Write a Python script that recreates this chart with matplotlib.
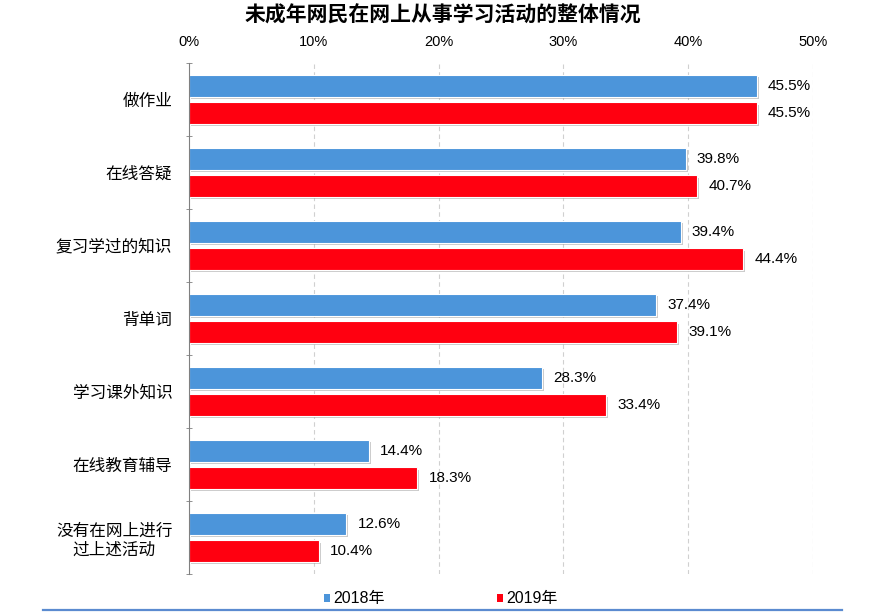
import matplotlib
matplotlib.use("Agg")
import matplotlib.pyplot as plt
import matplotlib.patheffects as pe
import numpy as np

plt.rcParams['font.family'] = ['Liberation Sans', 'Noto Sans CJK SC']

categories = ["做作业", "在线答疑", "复习学过的知识", "背单词", "学习课外知识", "在线教育辅导", "没有在网上进行\n过上述活动"]
values_2018 = [45.5, 39.8, 39.4, 37.4, 28.3, 14.4, 12.6]
values_2019 = [45.5, 40.7, 44.4, 39.1, 33.4, 18.3, 10.4]
series_names = ["2018年", "2019年"]
x_ticks = [0, 10, 20, 30, 40, 50]
x_tick_labels = ["0%", "10%", "20%", "30%", "40%", "50%"]
title = "未成年网民在网上从事学习活动的整体情况"

c18 = '#4C95DA'
c19 = '#FF0010'

fig = plt.figure(figsize=(8.81, 6.12), dpi=100)
ax = fig.add_axes([189/881, (612-574)/612, 624/881, 511/612])

n = len(categories)
y = np.arange(n)
off = 0.185
h = 0.29
shadow = [pe.SimplePatchShadow(offset=(1.5, -1.5), shadow_rgbFace='#999999', alpha=0.5), pe.Normal()]
b1 = ax.barh(y - off, values_2018, height=h, color=c18, edgecolor='white', linewidth=0.8, label=series_names[0], path_effects=shadow)
b2 = ax.barh(y + off, values_2019, height=h, color=c19, edgecolor='white', linewidth=0.8, label=series_names[1], path_effects=shadow)

for yy, v in zip(y - off, values_2018):
    ax.text(v + 0.9, yy, f"{v:.1f}%", va='center', ha='left', fontsize=11)
for yy, v in zip(y + off, values_2019):
    ax.text(v + 0.9, yy, f"{v:.1f}%", va='center', ha='left', fontsize=11)

ax.set_xlim(0, 50)
ax.set_ylim(n - 0.5, -0.5)
ax.xaxis.tick_top()
ax.set_xticks(x_ticks)
ax.set_xticklabels(x_tick_labels, fontsize=10.5)
ax.tick_params(axis='x', length=0, pad=10)
for t in x_ticks[1:]:
    ax.axvline(t, color='#D0D0D0', linestyle=(0, (4, 3)), linewidth=0.8, zorder=0)

ax.set_yticks(y)
ax.set_yticklabels(categories, fontsize=12, multialignment='center', linespacing=1.25)
ax.tick_params(axis='y', length=0, pad=12)
ax.set_yticks(np.arange(n + 1) - 0.5, minor=True)
ax.tick_params(axis='y', which='minor', length=4, color='#808080', direction='inout')

for s in ['top', 'right', 'bottom']:
    ax.spines[s].set_visible(False)
ax.spines['left'].set_color('#808080')
ax.spines['left'].set_linewidth(0.8)

fig.text(443/881, 1 - 15/612, title, ha='center', va='center', fontsize=15, fontweight='bold', family=['Noto Sans CJK SC'])

leg = fig.legend(handles=[b1, b2], labels=series_names, loc='center', bbox_to_anchor=(441/881, 1 - 599/612),
                 ncol=2, frameon=False, fontsize=11.5, handlelength=0.4, handleheight=0.4,
                 handletextpad=0.2, columnspacing=7.0, borderpad=0, borderaxespad=0)
for hdl in leg.legend_handles:
    hdl.set_path_effects([])
    hdl.set_edgecolor('none')

fig.add_artist(plt.Line2D([43/881, 842/881], [1 - 609.5/612, 1 - 609.5/612], color='#5B8BD0', linewidth=1.6))

fig.savefig('out.png', dpi=100)
